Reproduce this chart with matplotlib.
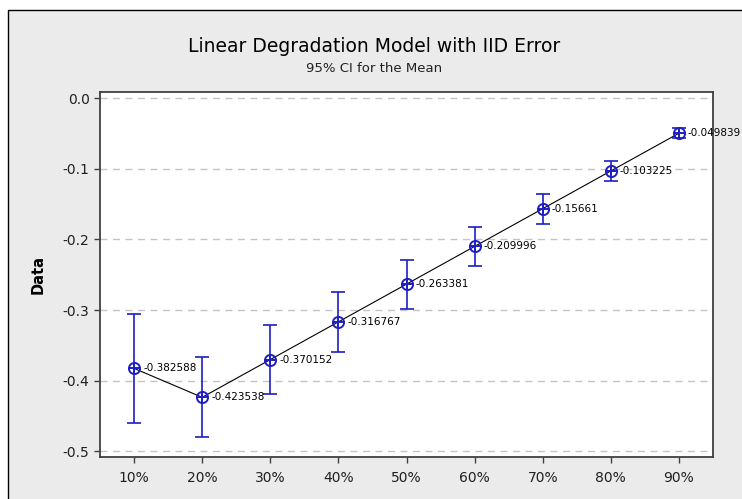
import matplotlib
matplotlib.use("Agg")
import matplotlib.pyplot as plt
from matplotlib.patches import Rectangle

# degradation levels and fitted means with 95% CI half widths
levels = ["10%", "20%", "30%", "40%", "50%", "60%", "70%", "80%", "90%"]
means = [-0.382588, -0.423538, -0.370152, -0.316767, -0.263381,
         -0.209996, -0.15661, -0.103225, -0.049839]
ci_half = [0.077, 0.0565, 0.049, 0.0427, 0.0345, 0.028, 0.021, 0.014, 0.0067]
mean_labels = ["-0.382588", "-0.423538", "-0.370152", "-0.316767", "-0.263381",
               "-0.209996", "-0.15661", "-0.103225", "-0.049839"]
yticks = [0.0, -0.1, -0.2, -0.3, -0.4, -0.5]

W, H = 742, 499
BG = "#ebebeb"
BLUE = "#1e1ec4"

plt.rcParams["font.family"] = ["DejaVu Sans"]

fig = plt.figure(figsize=(W / 100, H / 100), dpi=100, facecolor="white")

# grey panel with a black frame, cut off at the right and bottom
fig.patches.append(Rectangle((8 / W, -0.05), 1.0, 1 - 10 / H + 0.05,
                             transform=fig.transFigure, facecolor=BG,
                             edgecolor="black", linewidth=1.0, zorder=-5))

ax = fig.add_axes([100 / W, 1 - 457 / H, (713 - 100) / W, (457 - 92) / H])
ax.set_zorder(2)
ax.set_facecolor("white")

x = list(range(1, len(levels) + 1))

ax.plot(x, means, color="black", linewidth=0.8, zorder=2)
ax.errorbar(x, means, yerr=ci_half, fmt="none", ecolor=BLUE,
            elinewidth=1.2, capsize=4.8, capthick=1.2, zorder=3)
ax.plot(x, means, linestyle="none", marker="o", markersize=8,
        markerfacecolor="none", markeredgecolor=BLUE, markeredgewidth=1.4, zorder=4)
ax.plot(x, means, linestyle="none", marker="+", markersize=8,
        markeredgecolor=BLUE, markeredgewidth=1.4, zorder=4)

for xi, yi, lab in zip(x, means, mean_labels):
    ax.annotate(lab, (xi, yi), xytext=(6.5, 0), textcoords="offset points",
                ha="left", va="center", fontsize=7.5, color="black",
                annotation_clip=False, zorder=5)

ax.set_xlim(0.5, 9.5)
ax.set_ylim(-0.508, 0.0085)
ax.set_xticks(x)
ax.set_xticklabels(levels)
ax.set_yticks(yticks)
ax.set_yticklabels(["0.0", "-0.1", "-0.2", "-0.3", "-0.4", "-0.5"])
ax.tick_params(axis="both", direction="out", length=4, width=1, color="#404040",
               labelsize=10, labelcolor="#202020")
ax.tick_params(axis="x", pad=6)
ax.yaxis.grid(True, linestyle=(0, (5, 4)), color="#c4c4c4", linewidth=1)
ax.set_axisbelow(True)
for s in ax.spines.values():
    s.set_color("#404040")
    s.set_linewidth(1.3)

ax.set_ylabel("Data", fontsize=10.5, fontweight="bold", labelpad=12)

fig.text(374 / W, 1 - 47 / H, "Linear Degradation Model with IID Error",
         ha="center", va="center", fontsize=13.5, color="black")
fig.text(374 / W, 1 - 68 / H, "95% CI for the Mean",
         ha="center", va="center", fontsize=9.5, color="#202020")

fig.savefig("out.png", dpi=100, facecolor="white")
